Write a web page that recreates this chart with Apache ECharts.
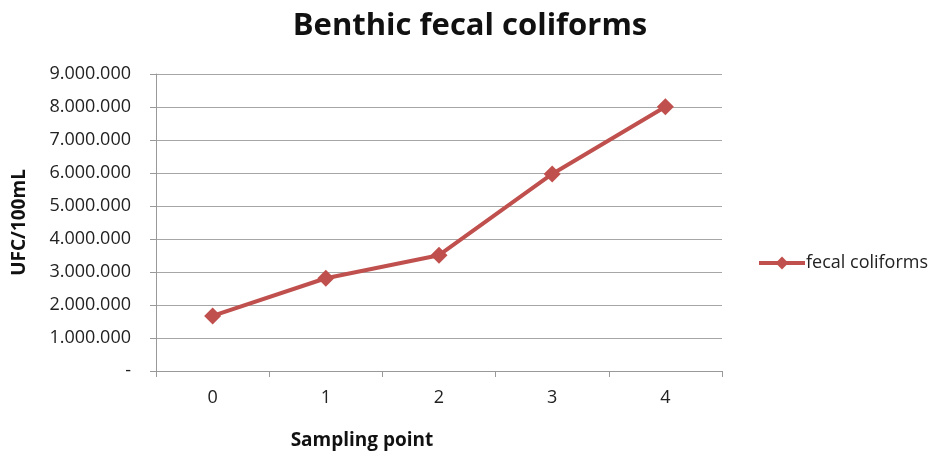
<!DOCTYPE html>
<html><head><meta charset="utf-8">
<script src="https://cdn.jsdelivr.net/npm/echarts@6/dist/echarts.min.js"></script>
<style>html,body{margin:0;padding:0;background:#fff}#c{width:934px;height:453px}</style>
</head><body><div id="c"></div>
<script>
const categories = ['0', '1', '2', '3', '4'];
const fecalColiforms = [1670000, 2810000, 3510000, 5970000, 8010000];
const yMin = 0, yMax = 9000000, yStep = 1000000;

function fmt(v) {
  if (v === 0) return '-';
  return String(v).replace(/\B(?=(\d{3})+(?!\d))/g, '.');
}

const chart = echarts.init(document.getElementById('c'));
chart.setOption({
  animation: false,
  textStyle: { fontFamily: 'Open Sans' },
  title: [
    { text: 'Benthic fecal coliforms', left: 465, textAlign: 'center', top: 6,
      textStyle: { fontFamily: 'Open Sans', fontWeight: 'bold', fontSize: 31, color: '#111' } },
    { text: 'Sampling point', left: 357, textAlign: 'center', top: 426,
      textStyle: { fontFamily: 'Open Sans', fontWeight: 'bold', fontSize: 19, color: '#111' } }
  ],
  legend: {
    left: 752, top: 249, orient: 'vertical',
    data: ['fecal coliforms'],
    itemWidth: 46, itemHeight: 16, itemGap: 0,
    lineStyle: { width: 4 },
    textStyle: { fontFamily: 'Open Sans', fontSize: 18, color: '#222', padding: [0, 0, 0, -4] }
  },
  grid: { left: 156, right: 212, top: 74, bottom: 82 },
  xAxis: {
    type: 'category', data: categories, boundaryGap: true,
    axisLine: { lineStyle: { color: '#999', width: 1 } },
    axisTick: { show: true, length: 6, lineStyle: { color: '#999' } },
    axisLabel: { fontSize: 18, color: '#222', margin: 18, fontFamily: 'Open Sans' }
  },
  yAxis: {
    type: 'value', min: yMin, max: yMax, interval: yStep,
    name: 'UFC/100mL', nameLocation: 'middle', nameGap: 127, nameRotate: 90,
    nameTextStyle: { fontWeight: 'bold', fontSize: 19, color: '#111', fontFamily: 'Open Sans' },
    axisLine: { show: true, lineStyle: { color: '#999', width: 1 } },
    axisTick: { show: true, length: 6, lineStyle: { color: '#999' } },
    splitLine: { lineStyle: { color: '#a6a6a6', width: 1 } },
    axisLabel: { fontSize: 18, color: '#222', margin: 25, formatter: fmt, fontFamily: 'Open Sans' }
  },
  series: [{
    name: 'fecal coliforms', type: 'line', data: fecalColiforms,
    symbol: 'diamond', symbolSize: 17,
    lineStyle: { color: '#C0504D', width: 4 },
    itemStyle: { color: '#C0504D' }
  }]
});
</script>
</body></html>
